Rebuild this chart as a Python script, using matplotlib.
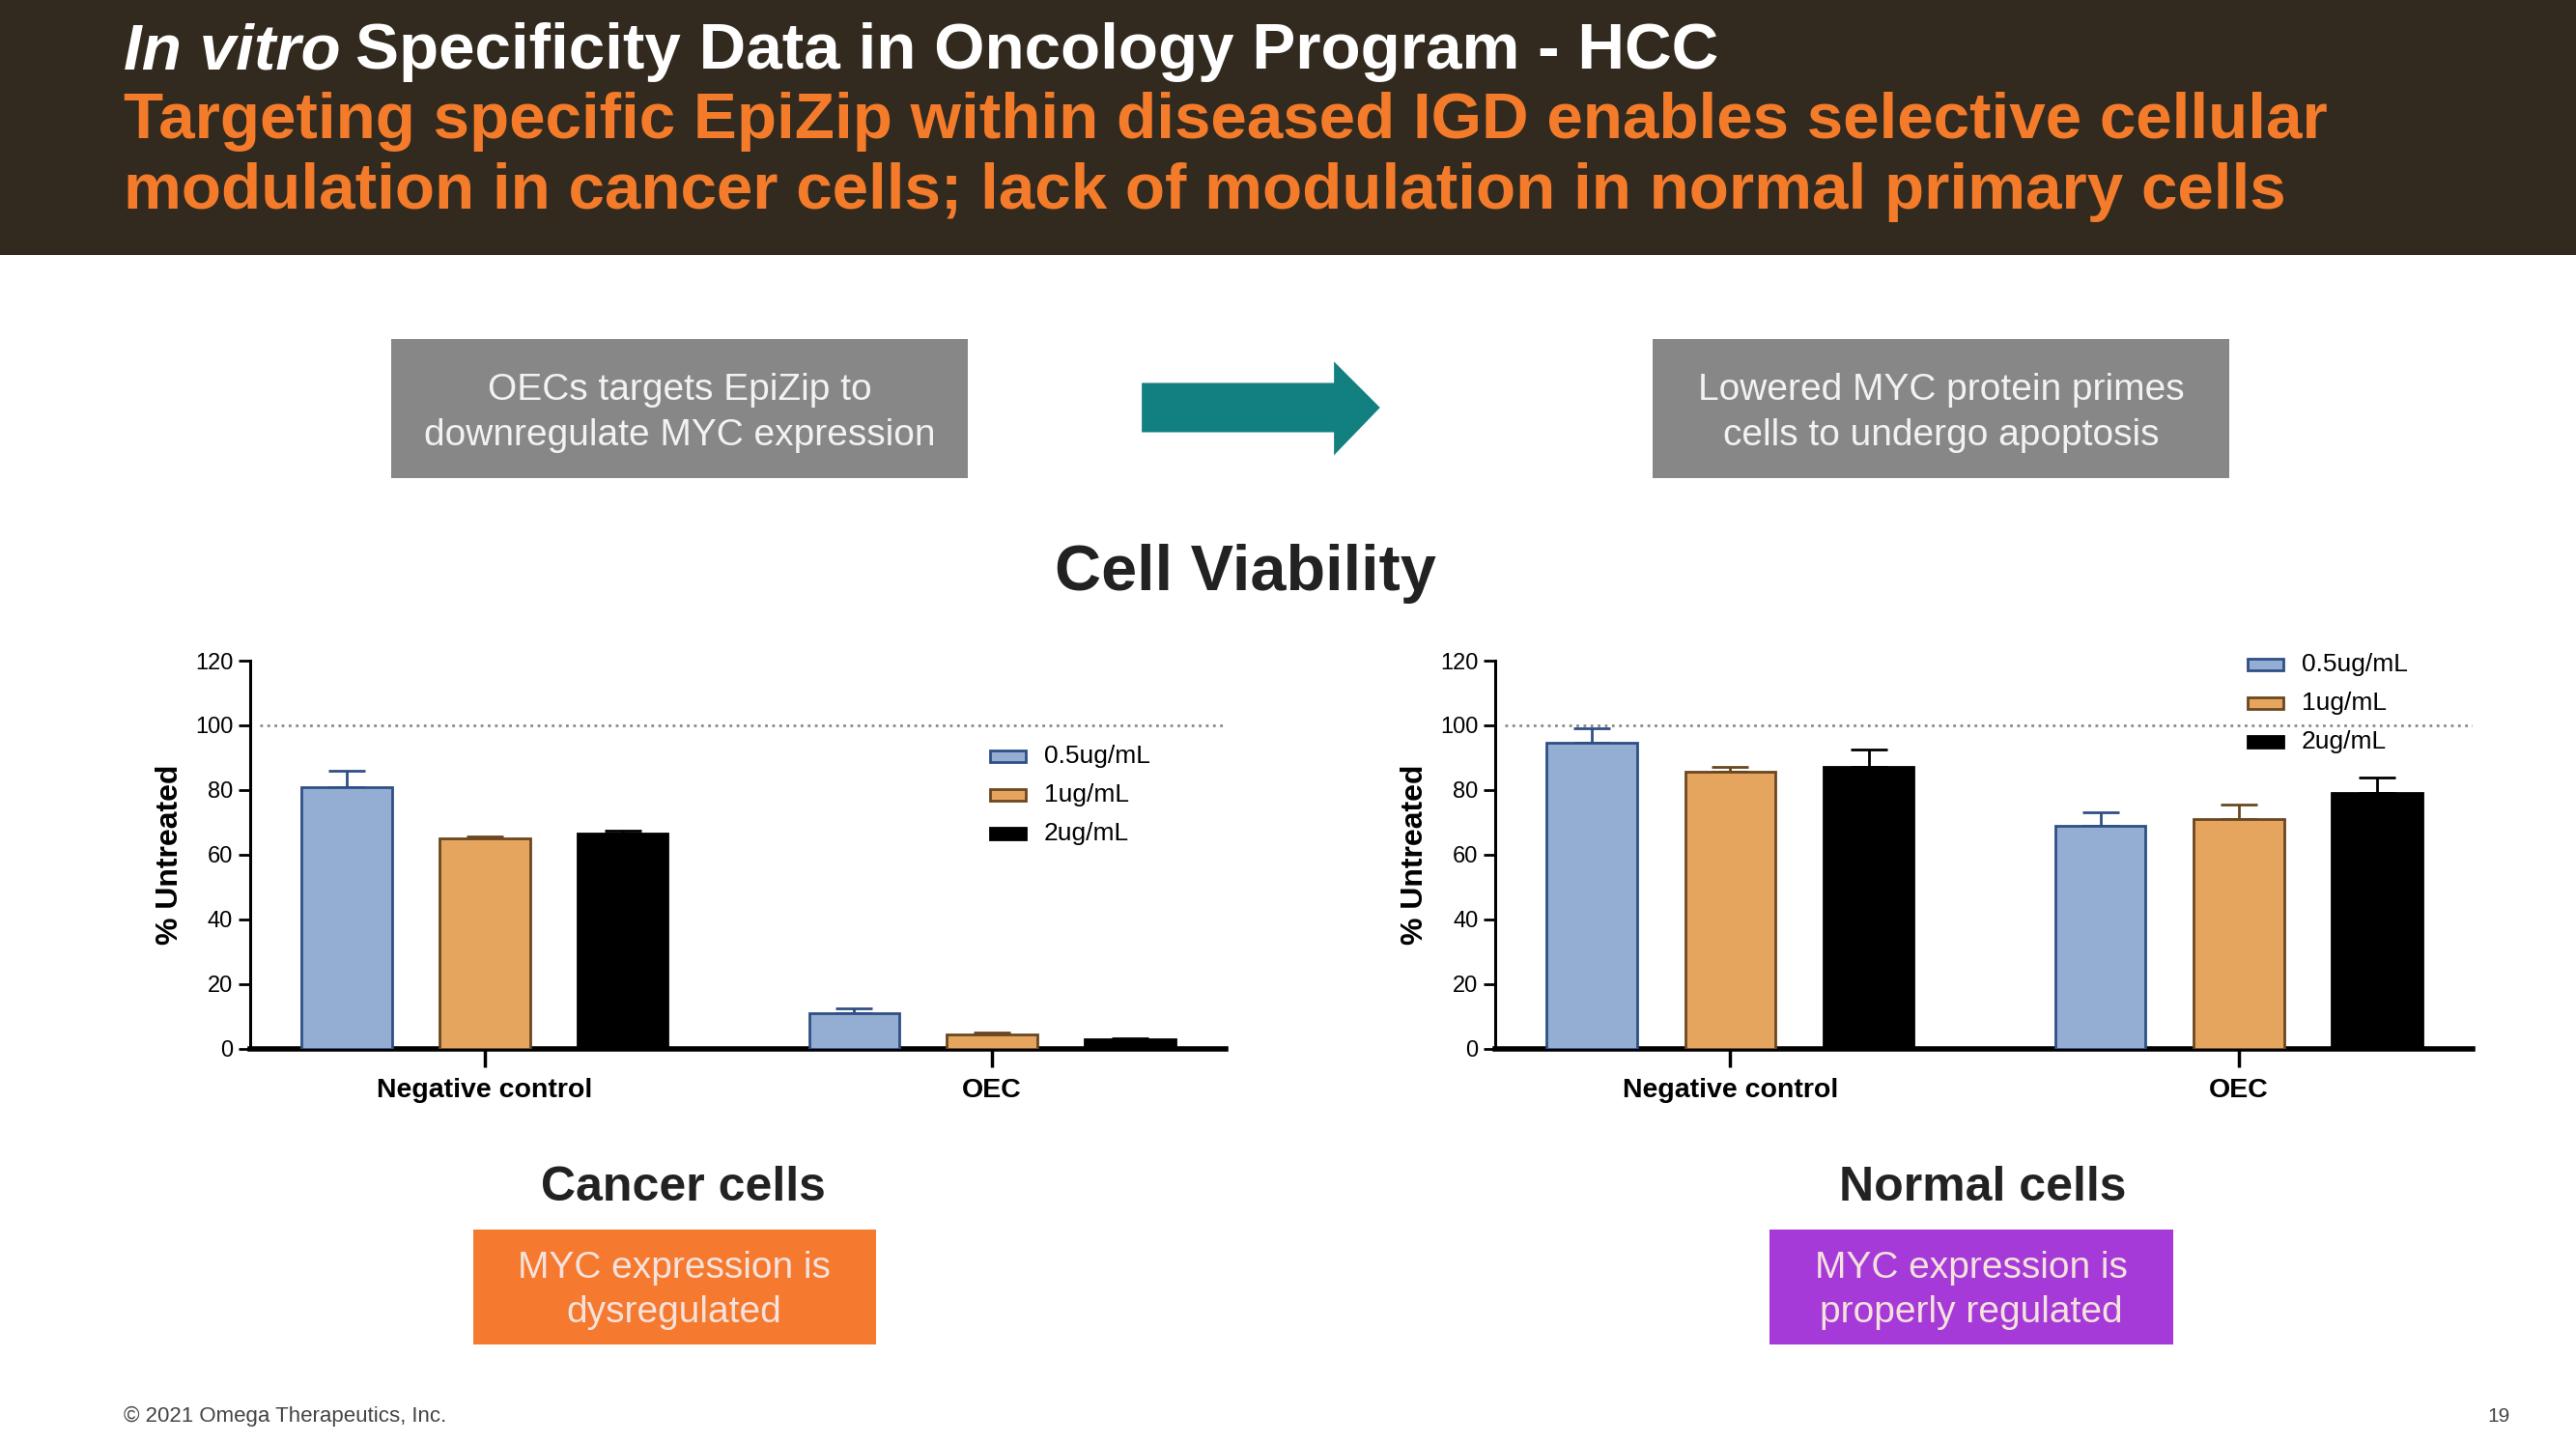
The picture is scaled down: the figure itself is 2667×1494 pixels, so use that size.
import numpy as np
import matplotlib.pyplot as plt
from matplotlib.patches import Rectangle, Polygon

plt.rcParams['font.family'] = ['Liberation Sans', 'DejaVu Sans']

# данные
groups = ['Negative control', 'OEC']
doses = ['0.5ug/mL', '1ug/mL', '2ug/mL']

cancer_vals = [[81, 11], [65, 4.5], [66.5, 3]]
cancer_err = [[5, 1.5], [0.5, 0.5], [1, 0.3]]

normal_vals = [[94.5, 69], [85.5, 71], [87, 79]]
normal_err = [[4.5, 4], [1.5, 4.5], [5.5, 5]]

fills = ['#94aed3', '#e6a55f', '#000000']
edges = ['#2f4f85', '#6a4720', '#000000']

W, H = 1568, 878


def fx(x):
    return x / W


def fy(y):
    return 1 - y / H


fig = plt.figure(figsize=(26.67, 14.94), dpi=100)
renderer = fig.canvas.get_renderer()

# шапка
fig.add_artist(Rectangle((0, fy(155)), 1, 155 / H, transform=fig.transFigure,
                         facecolor='#332a1f', edgecolor='none'))
t = fig.text(fx(75), fy(32), 'In vitro', color='white', fontsize=48.5, fontweight='bold',
             fontstyle='italic', va='center', ha='left')
bb = t.get_window_extent(renderer)
fig.text(bb.x1 / fig.bbox.width + 0.006, fy(32), 'Specificity Data in Oncology Program - HCC',
         color='white', fontsize=48.5, fontweight='bold', va='center', ha='left')
fig.text(fx(75), fy(74), 'Targeting specific EpiZip within diseased IGD enables selective cellular',
         color='#f47b2a', fontsize=48.5, fontweight='bold', va='center', ha='left')
fig.text(fx(75), fy(117), 'modulation in cancer cells; lack of modulation in normal primary cells',
         color='#f47b2a', fontsize=48.5, fontweight='bold', va='center', ha='left')

# серые блоки и стрелка
for x0, x1, txt in [(238, 589, 'OECs targets EpiZip to\ndownregulate MYC expression'),
                    (1006, 1357, 'Lowered MYC protein primes\ncells to undergo apoptosis')]:
    fig.add_artist(Rectangle((fx(x0), fy(291)), (x1 - x0) / W, (291 - 206) / H,
                             transform=fig.transFigure, facecolor='#878787', edgecolor='none'))
    fig.text(fx((x0 + x1) / 2), fy(251), txt, color='#f2f2f2', fontsize=28,
             ha='center', va='center', linespacing=1.4)

arrow = [(695, 233), (812, 233), (812, 220), (840, 248), (812, 277), (812, 263), (695, 263)]
fig.add_artist(Polygon([(fx(x), fy(y)) for x, y in arrow], closed=True,
                       transform=fig.transFigure, facecolor='#127f80', edgecolor='none'))

fig.text(fx(758), fy(349), 'Cell Viability', color='#222222', fontsize=48,
         fontweight='bold', ha='center', va='center')


def draw_panel(rect, vals, errs, legend_xy):
    ax = fig.add_axes(rect)
    x = np.arange(len(groups))
    offsets = [-0.272, 0, 0.272]
    for i in range(len(doses)):
        ax.bar(x + offsets[i], vals[i], width=0.178, color=fills[i],
               edgecolor=edges[i], linewidth=2, zorder=3)
        ax.errorbar(x + offsets[i], vals[i], yerr=[np.zeros(len(groups)), errs[i]],
                    fmt='none', ecolor=edges[i], elinewidth=2, capsize=14,
                    capthick=2, zorder=2)
    ax.axhline(100, xmin=0.01, xmax=1, color='#8a8a8a', linestyle=':', linewidth=2)
    ax.set_xlim(-0.463, 1.46)
    ax.set_ylim(0, 120)
    ax.set_yticks(range(0, 121, 20))
    ax.set_xticks(x)
    ax.set_xticklabels(groups, fontsize=20.5, fontweight='bold')
    ax.tick_params(axis='y', labelsize=17, length=9, width=2)
    ax.tick_params(axis='x', length=14, width=2.5, pad=8)
    ax.spines['top'].set_visible(False)
    ax.spines['right'].set_visible(False)
    ax.spines['left'].set_linewidth(2.2)
    ax.spines['bottom'].set_linewidth(4)
    ax.set_ylabel('% Untreated', fontsize=23, fontweight='bold', labelpad=8)
    lx, ly = legend_xy
    for i, d in enumerate(doses):
        yy = ly - i * 0.1
        ax.add_patch(Rectangle((lx, yy - 0.015), 0.036, 0.03, transform=ax.transAxes,
                               facecolor=fills[i], edgecolor=edges[i], linewidth=2,
                               clip_on=False))
        ax.text(lx + 0.055, yy, d, transform=ax.transAxes, fontsize=19,
                va='center', ha='left')
    return ax


ax_top, ax_bot = fy(402), fy(638)
draw_panel([fx(152), ax_bot, fx(746) - fx(152), ax_top - ax_bot],
           cancer_vals, cancer_err, (0.759, 0.754))
draw_panel([fx(910), ax_bot, fx(1505) - fx(910), ax_top - ax_bot],
           normal_vals, normal_err, (0.770, 0.99))

# подписи снизу
for cx, title, x0, x1, col, txt in [
        (416, 'Cancer cells', 288, 533, '#f57a30', 'MYC expression is\ndysregulated'),
        (1207, 'Normal cells', 1077, 1323, '#a53ad9', 'MYC expression is\nproperly regulated')]:
    fig.text(fx(cx), fy(723), title, color='#222222', fontsize=36, fontweight='bold',
             ha='center', va='center')
    fig.add_artist(Rectangle((fx(x0), fy(818)), (x1 - x0) / W, (818 - 748) / H,
                             transform=fig.transFigure, facecolor=col, edgecolor='none'))
    fig.text(fx((x0 + x1) / 2), fy(785), txt, color='#f6e2dc', fontsize=28,
             ha='center', va='center', linespacing=1.35)

fig.text(fx(75), fy(862), '\u00a9 2021 Omega Therapeutics, Inc.', color='#444444',
         fontsize=16, ha='left', va='center')
fig.text(fx(1528), fy(862), '19', color='#444444', fontsize=15, ha='right', va='center')

fig.savefig('out.png', dpi=100)
